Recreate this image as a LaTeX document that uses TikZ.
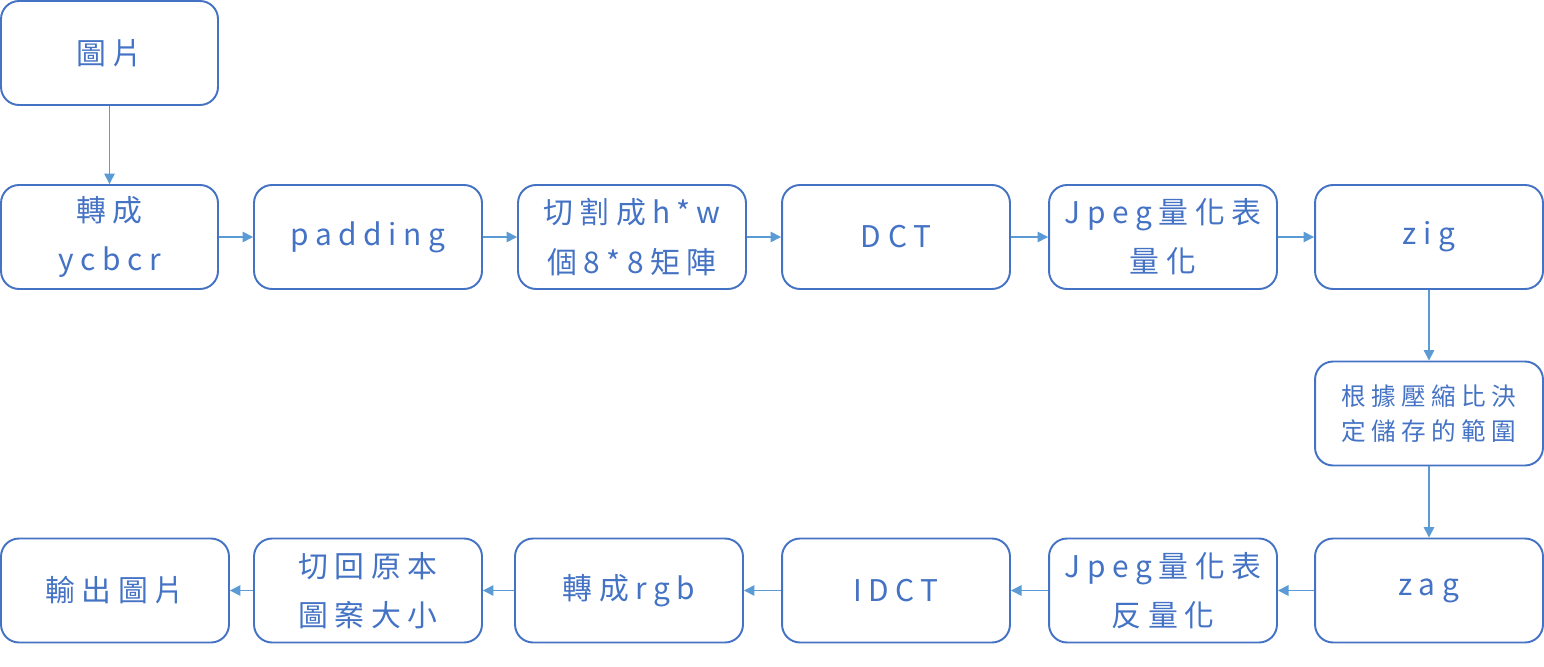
\documentclass[tikz,border=0pt]{standalone}
\usepackage{xcolor}
\usepackage{tikz}
\usepackage{fontspec}
\setmainfont{Noto Sans CJK TC}
\newfontfamily\cjk[LetterSpace=22]{Noto Sans CJK TC}
\definecolor{boxblue}{RGB}{68, 114, 196}
\definecolor{arrowblue}{RGB}{91, 155, 213}
\usetikzlibrary{arrows.meta, positioning, calc}

\begin{document}
\begin{tikzpicture}[
    x=0.02cm, y=-0.02cm,
    stage/.style={rectangle, rounded corners=0.36cm, draw=boxblue, line width=1.1pt, text=boxblue,
        minimum width=4.56cm, minimum height=2.08cm, align=center,
        font=\cjk\fontsize{17}{28}\selectfont},
    arrow/.style={-{Triangle[length=6pt, width=6pt]}, draw=arrowblue, line width=0.8pt}
]
    \useasboundingbox (0,0) rectangle (1544,666);

    % top
    \node[stage, minimum width=4.34cm] (img) at (109.5, 53) {圖片};

    % encoding row
    \node[stage, minimum width=4.34cm] (ycc) at (109.5, 237) {轉成\\ycbcr};
    \node[stage] (pad) at (368, 237) {padding};
    \node[stage] (split) at (632, 237) {切割成h*w\\個8*8矩陣};
    \node[stage] (dct) at (896, 237) {DCT};
    \node[stage] (quant) at (1163, 237) {Jpeg量化表\\量化};
    \node[stage] (zig) at (1429, 237) {zig};

    % middle
    \node[stage, font=\cjk\fontsize{14}{20}\selectfont] (range) at (1429, 413.5) {根據壓縮比決\\定儲存的範圍};

    % decoding row
    \node[stage] (zag) at (1429, 590.5) {zag};
    \node[stage] (dequant) at (1163, 590.5) {Jpeg量化表\\反量化};
    \node[stage] (idct) at (896, 590.5) {IDCT};
    \node[stage] (rgb) at (629, 590.5) {轉成rgb};
    \node[stage] (merge) at (368, 590.5) {切回原本\\圖案大小};
    \node[stage] (out) at (115, 590.5) {輸出圖片};

    \draw[arrow] (img) -- (ycc);
    \draw[arrow] (ycc) -- (pad);
    \draw[arrow] (pad) -- (split);
    \draw[arrow] (split) -- (dct);
    \draw[arrow] (dct) -- (quant);
    \draw[arrow] (quant) -- (zig);
    \draw[arrow] (zig) -- (range);
    \draw[arrow] (range) -- (zag);
    \draw[arrow] (zag) -- (dequant);
    \draw[arrow] (dequant) -- (idct);
    \draw[arrow] (idct) -- (rgb);
    \draw[arrow] (rgb) -- (merge);
    \draw[arrow] (merge) -- (out);
\end{tikzpicture}
\end{document}
